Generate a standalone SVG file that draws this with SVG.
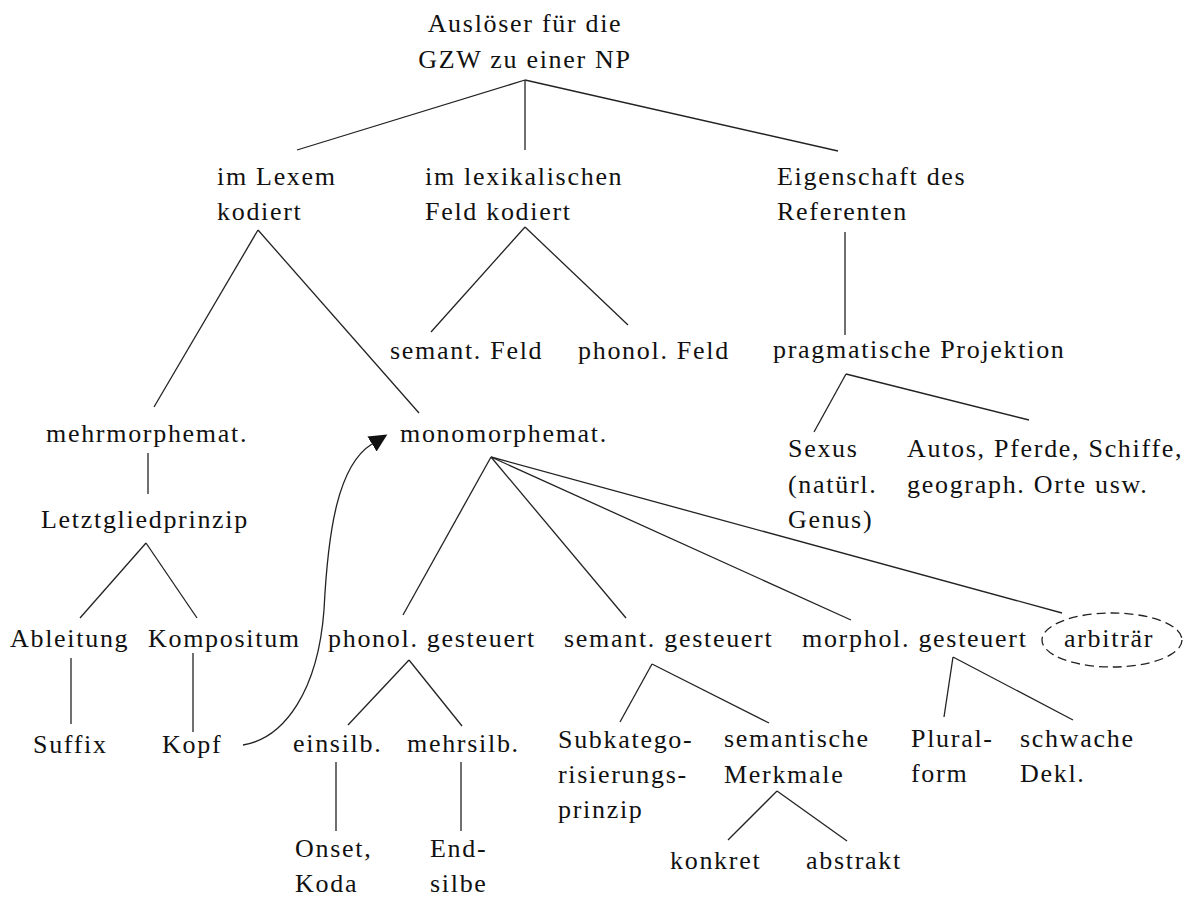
<svg xmlns="http://www.w3.org/2000/svg" width="1190" height="897" viewBox="0 0 1190 897">
<style>
text{font-family:"Liberation Serif","Times New Roman",serif;font-size:26px;letter-spacing:1.7px;fill:#111}
.c line,.c path{stroke:#222;stroke-width:1.3;fill:none}
.ell{fill:none;stroke:#222;stroke-width:1.3;stroke-dasharray:9 5}
</style>
<defs>
<marker id="ah" markerUnits="userSpaceOnUse" markerWidth="20" markerHeight="20" refX="0" refY="9" orient="auto" viewBox="0 0 20 18">
<path d="M0,0.25 L18,9 L0,17.75 z" fill="#111"/>
</marker>
</defs>
<rect width="1190" height="897" fill="#fff"/>
<g class="c" id="connectors">
<line x1="525" y1="80" x2="297" y2="150"/>
<line x1="525" y1="80" x2="525" y2="150"/>
<line x1="525" y1="80" x2="838" y2="151"/>
<line x1="258" y1="230" x2="154" y2="407"/>
<line x1="258" y1="230" x2="419" y2="413"/>
<line x1="525" y1="227" x2="431" y2="332"/>
<line x1="525" y1="227" x2="628" y2="325"/>
<line x1="845" y1="232" x2="845" y2="335"/>
<line x1="846" y1="374" x2="814" y2="432"/>
<line x1="846" y1="374" x2="1029" y2="420"/>
<line x1="148" y1="453" x2="148" y2="494"/>
<line x1="146" y1="543" x2="80" y2="618"/>
<line x1="146" y1="543" x2="197" y2="618"/>
<line x1="491" y1="457" x2="403" y2="615"/>
<line x1="491" y1="457" x2="626" y2="618"/>
<line x1="491" y1="457" x2="851" y2="620"/>
<line x1="491" y1="457" x2="1062" y2="613"/>
<line x1="71" y1="658" x2="71" y2="724"/>
<line x1="193" y1="653" x2="193" y2="732"/>
<line x1="409" y1="660" x2="348" y2="725"/>
<line x1="409" y1="660" x2="462" y2="726"/>
<line x1="336" y1="762" x2="336" y2="831"/>
<line x1="461" y1="762" x2="461" y2="831"/>
<line x1="652" y1="664" x2="620" y2="722"/>
<line x1="652" y1="664" x2="769" y2="723"/>
<line x1="777" y1="791" x2="728" y2="840"/>
<line x1="777" y1="791" x2="847" y2="841"/>
<line x1="953" y1="657" x2="944" y2="717"/>
<line x1="953" y1="657" x2="1073" y2="720"/>
<path d="M243,745 C285,738 318,690 324,610 C328,530 338,465 372,444" marker-end="url(#ah)"/>
</g>
<g id="root"><text x="525" y="32" text-anchor="middle">Auslöser für die</text><text x="525" y="68" text-anchor="middle">GZW zu einer NP</text></g>
<g id="lexem"><text x="217" y="185">im Lexem</text><text x="217" y="220">kodiert</text></g>
<g id="feld"><text x="425" y="185">im lexikalischen</text><text x="425" y="220">Feld kodiert</text></g>
<g id="eigenschaft"><text x="777" y="185">Eigenschaft des</text><text x="777" y="220">Referenten</text></g>
<g id="semfeld"><text x="390" y="359">semant. Feld</text></g>
<g id="phonfeld"><text x="578" y="359">phonol. Feld</text></g>
<g id="pragmatisch"><text x="773" y="358">pragmatische Projektion</text></g>
<g id="mehrmorph"><text x="46" y="442">mehrmorphemat.</text></g>
<g id="monomorph"><text x="400" y="442">monomorphemat.</text></g>
<g id="sexus"><text x="788" y="457">Sexus</text><text x="788" y="493">(natürl.</text><text x="788" y="528">Genus)</text></g>
<g id="autos"><text x="907" y="457">Autos, Pferde, Schiffe,</text><text x="907" y="493">geograph. Orte usw.</text></g>
<g id="letztglied"><text x="41" y="528">Letztgliedprinzip</text></g>
<g id="ableitung"><text x="10" y="647">Ableitung</text></g>
<g id="kompositum"><text x="148" y="647">Kompositum</text></g>
<g id="phonol"><text x="328" y="647">phonol. gesteuert</text></g>
<g id="semant"><text x="564" y="647">semant. gesteuert</text></g>
<g id="morphol"><text x="802" y="647">morphol. gesteuert</text></g>
<g id="arbitraer"><ellipse class="ell" cx="1112" cy="640" rx="70" ry="27"/><text x="1064" y="647">arbiträr</text></g>
<g id="suffix"><text x="33" y="753">Suffix</text></g>
<g id="kopf"><text x="162" y="753">Kopf</text></g>
<g id="einsilb"><text x="293" y="752">einsilb.</text></g>
<g id="mehrsilb"><text x="407" y="752">mehrsilb.</text></g>
<g id="subkat"><text x="558" y="748">Subkatego-</text><text x="558" y="783">risierungs-</text><text x="558" y="818">prinzip</text></g>
<g id="merkmale"><text x="724" y="747">semantische</text><text x="724" y="783">Merkmale</text></g>
<g id="plural"><text x="911" y="747">Plural-</text><text x="911" y="782">form</text></g>
<g id="schwach"><text x="1020" y="747">schwache</text><text x="1020" y="782">Dekl.</text></g>
<g id="konkret"><text x="670" y="869">konkret</text></g>
<g id="abstrakt"><text x="806" y="869">abstrakt</text></g>
<g id="onset"><text x="295" y="857">Onset,</text><text x="295" y="892">Koda</text></g>
<g id="endsilbe"><text x="430" y="857">End-</text><text x="430" y="892">silbe</text></g>
</svg>
